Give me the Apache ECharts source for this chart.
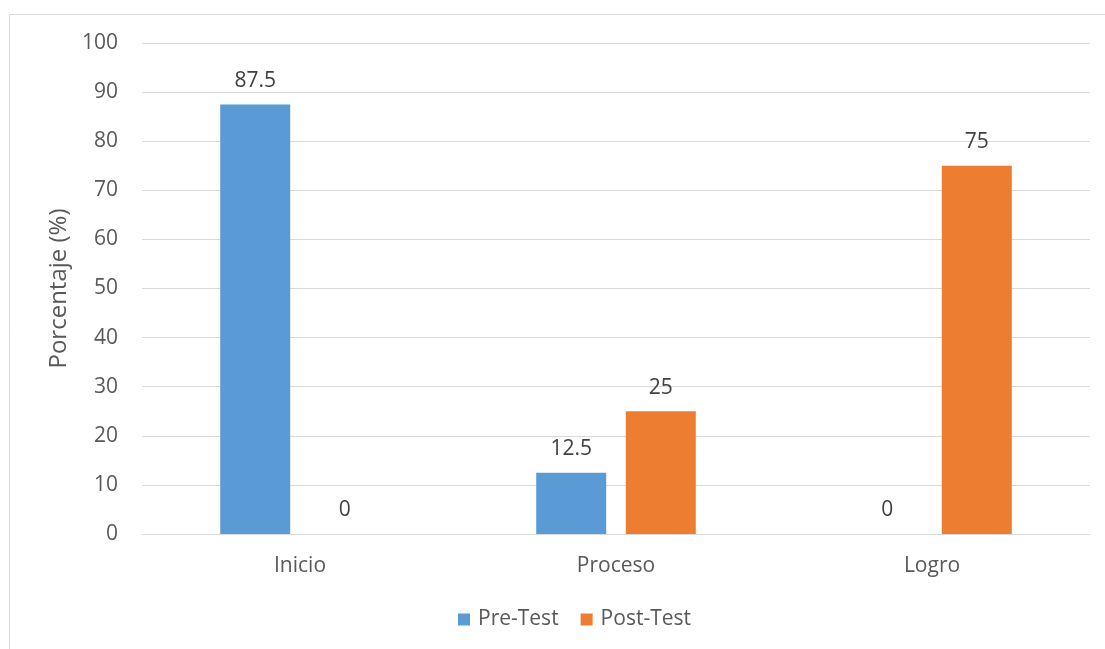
<!DOCTYPE html>
<html>
<head>
<meta charset="utf-8">
<script src="https://cdn.jsdelivr.net/npm/echarts@6/dist/echarts.min.js"></script>
<style>
  html, body { margin: 0; padding: 0; background: #fff; }
  #main { width: 1105px; height: 649px; }
</style>
</head>
<body>
<div id="main"></div>
<script>
// datos del gráfico
const categorias = ["Inicio", "Proceso", "Logro"];
const preTest = [87.5, 12.5, 0];
const postTest = [0, 25, 75];
const yTicks = [0, 10, 20, 30, 40, 50, 60, 70, 80, 90, 100];

const FONT = "Open Sans";

let myChart = echarts.init(document.getElementById("main"));

let labelStyle = {
  show: true,
  position: "top",
  distance: 13,
  color: "#404040",
  fontSize: 21,
  fontFamily: FONT
};

let option = {
  backgroundColor: "#fff",
  animation: false,
  textStyle: { fontFamily: FONT },
  graphic: [
    {
      // marco del gráfico
      type: "rect",
      shape: { x: 9.5, y: 14.5, width: 1110, height: 650 },
      style: { fill: "none", stroke: "#d9d9d9", lineWidth: 1 },
      silent: true
    }
  ],
  grid: {
    left: 142,
    right: 15,
    top: 43,
    bottom: 115
  },
  legend: {
    bottom: 14,
    left: 453,
    itemWidth: 12,
    itemHeight: 12,
    itemGap: 22,
    icon: "rect",
    textStyle: { color: "#595959", fontSize: 21, fontFamily: FONT, padding: [0, 0, 0, 3] },
    data: ["Pre-Test", "Post-Test"]
  },
  xAxis: {
    type: "category",
    data: categorias,
    axisLine: { lineStyle: { color: "#d9d9d9", width: 1 } },
    axisTick: { show: false },
    axisLabel: { color: "#595959", fontSize: 21, fontFamily: FONT, margin: 22 }
  },
  yAxis: {
    type: "value",
    min: yTicks[0],
    max: yTicks[yTicks.length - 1],
    interval: 10,
    name: "Porcentaje (%)",
    nameLocation: "middle",
    nameGap: 64,
    nameRotate: 90,
    nameTextStyle: { color: "#595959", fontSize: 24, fontFamily: FONT },
    axisLine: { show: false },
    axisTick: { show: false },
    axisLabel: { color: "#595959", fontSize: 21, fontFamily: FONT, margin: 24 },
    splitLine: { lineStyle: { color: "#d9d9d9", width: 1 } }
  },
  series: [
    {
      name: "Pre-Test",
      type: "bar",
      barWidth: 70,
      barGap: "28%",
      color: "#5b9bd5",
      label: labelStyle,
      data: preTest
    },
    {
      name: "Post-Test",
      type: "bar",
      barWidth: 70,
      barGap: "28%",
      color: "#ed7d31",
      label: labelStyle,
      data: postTest
    }
  ]
};

myChart.setOption(option);
</script>
</body>
</html>
